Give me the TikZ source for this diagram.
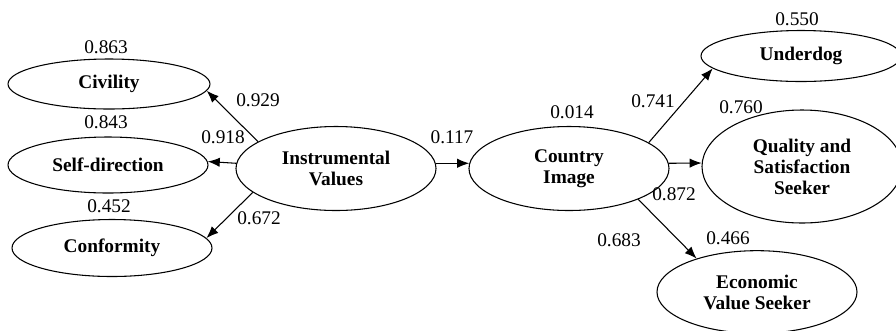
\documentclass[tikz,border=0pt]{standalone}
\usepackage{fontspec}
\setmainfont{Liberation Serif}
\usetikzlibrary{shapes.geometric,arrows.meta}

\begin{document}
\begin{tikzpicture}[x=0.75pt,y=-0.75pt,
  every node/.style={font=\fontsize{14.5}{15.8}\selectfont, inner sep=1pt},
  construct/.style={ellipse, draw, line width=0.8pt, align=center, font=\fontsize{14.5}{15.8}\selectfont\bfseries},
  path/.style={line width=0.8pt, -{Latex[length=9pt,width=7pt]}}]
\useasboundingbox (0,0) rectangle (896,330);

\node[construct, minimum width=151.5pt, minimum height=37.5pt] (civ) at (109,84) {Civility};
\node[construct, minimum width=150pt, minimum height=42pt] (sd) at (108,165) {Self-direction};
\node[construct, minimum width=150pt, minimum height=42.75pt] (conf) at (112,248) {Conformity};
\node[construct, minimum width=150pt, minimum height=63pt] (iv) at (336,168.5) {Instrumental\\Values};
\node[construct, minimum width=150pt, minimum height=63pt] (ci) at (569,168.5) {Country\\Image};
\node[construct, minimum width=150pt, minimum height=38.25pt] (ud) at (801,56) {Underdog};
\node[construct, minimum width=150pt, minimum height=84.75pt] (qs) at (802,166.5) {Quality and\\Satisfaction\\Seeker};
\node[construct, minimum width=150pt, minimum height=62pt] (ev) at (757,292) {Economic\\Value Seeker};

\node (r863) at (106,47) {0.863};
\node (r843) at (106,122) {0.843};
\node (r452) at (109,206) {0.452};
\node (r014) at (572,112) {0.014};
\node (r550) at (797,19) {0.550};
\node (r760) at (741,107) {0.760};
\node (r466) at (728,238) {0.466};

\node (p929) at (258,100) {0.929};
\node (p918) at (223,137) {0.918};
\node (p672) at (259,218) {0.672};
\node (p117) at (452,137) {0.117};
\node (p741) at (653,101) {0.741};
\node (p872) at (674,194) {0.872};
\node (p683) at (619,240) {0.683};

\draw[path] (iv.161) -- (civ.-4);
\draw[path] (iv.177) -- (sd.2);
\draw[path] (iv.196) -- (conf.6);
\draw[path] (iv.3) -- (ci.177);
\draw[path] (ci.18) -- (ud.188);
\draw[path] (ci.3) -- (qs.178);
\draw[path] (ci.-24) -- (ev.151);
\end{tikzpicture}
\end{document}
